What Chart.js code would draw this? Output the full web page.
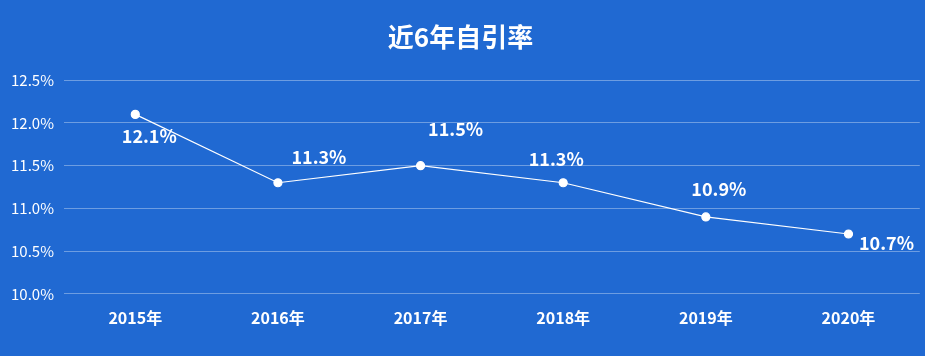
<!DOCTYPE html>
<html><head><meta charset="utf-8">
<script src="https://cdn.jsdelivr.net/npm/chart.js@4/dist/chart.umd.min.js"></script>
<style>html,body{margin:0;padding:0;background:#2069d2;}#wrap{width:925px;height:356px;position:relative;}</style>
</head><body><div id="wrap"><canvas id="c"></canvas></div>
<script>
const categories = ['2015年','2016年','2017年','2018年','2019年','2020年'];
const selfCiteRate = [12.1, 11.3, 11.5, 11.3, 10.9, 10.7];
const yTickLabels = ['10.0%','10.5%','11.0%','11.5%','12.0%','12.5%'];

const FONT = '"Noto Sans CJK SC","Noto Sans",sans-serif';
const labelOffsets = [[14,22],[41,-26],[35,-36],[-7,-24],[13,-28],[38,9]];

const labelPlugin = {
  id: 'pointLabels',
  afterDatasetsDraw(chart) {
    const ctx = chart.ctx;
    const meta = chart.getDatasetMeta(0);
    ctx.save();
    ctx.font = 'bold 18px ' + FONT;
    ctx.fillStyle = '#ffffff';
    ctx.textAlign = 'center';
    ctx.textBaseline = 'middle';
    meta.data.forEach((pt, i) => {
      const o = labelOffsets[i];
      ctx.fillText(selfCiteRate[i].toFixed(1) + '%', pt.x + o[0], pt.y + o[1]);
    });
    ctx.restore();
  }
};

new Chart(document.getElementById('c'), {
  type: 'line',
  data: {
    labels: categories,
    datasets: [{
      data: selfCiteRate,
      borderColor: '#ffffff',
      borderWidth: 1.2,
      pointBackgroundColor: '#ffffff',
      pointBorderColor: '#ffffff',
      pointRadius: 4,
      tension: 0
    }]
  },
  options: {
    responsive: true,
    maintainAspectRatio: false,
    animation: false,
    layout: { padding: { left: 1, right: 5, top: 0, bottom: 21 } },
    plugins: {
      legend: { display: false },
      tooltip: { enabled: false },
      title: {
        display: true,
        text: '近6年自引率',
        color: '#ffffff',
        font: { family: FONT, size: 26, weight: 'bold' },
        padding: { top: 22, bottom: 27 }
      }
    },
    scales: {
      x: {
        offset: true,
        grid: { display: false },
        border: { display: false },
        ticks: { color: '#ffffff', font: { family: FONT, size: 16, weight: 'bold' }, padding: 7 }
      },
      y: {
        min: 10, max: 12.5,
        grid: { color: 'rgba(255,255,255,0.35)', lineWidth: 1, drawTicks: false },
        border: { display: false },
        ticks: {
          stepSize: 0.5,
          color: '#ffffff',
          padding: 10,
          font: { family: FONT, size: 15 },
          callback: (v, i) => yTickLabels[i]
        }
      }
    }
  },
  plugins: [labelPlugin]
});
</script></body></html>
